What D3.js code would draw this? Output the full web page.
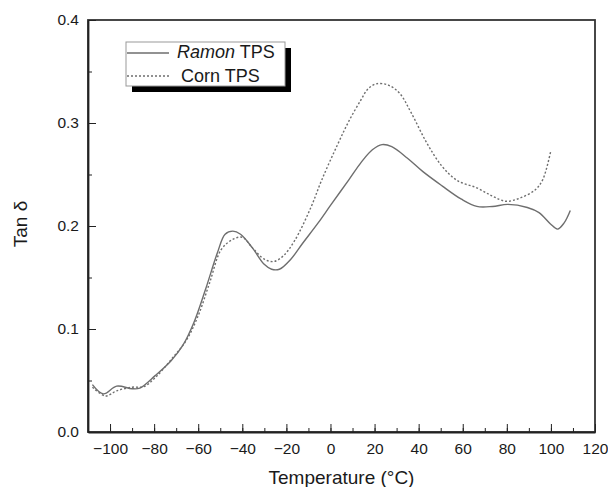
<!DOCTYPE html>
<html lang="en">
<head>
<meta charset="utf-8">
<title>Tan delta vs temperature</title>
<script src="https://d3js.org/d3.v7.min.js"></script>
<style>
  body { margin: 0; background: #fff; }
  svg text { font-family: "Liberation Sans", Arial, sans-serif; fill: #1a1a1a; }
  .axis path, .axis line { stroke: #222; }
</style>
</head>
<body>
<script>
// data (temperature in °C, tan delta)
const ramonT = [-108, -103, -97, -90, -86.5, -79.4, -72.4, -67, -62, -56.6, -51.3, -47.8, -44.3, -40.8, -35.5, -30.2, -26.7, -23.2, -17.9, -12.7, -5.6, 0, 8.4, 14, 19, 23.4, 27.8, 34.8, 41.8, 50.6, 59.4, 66.4, 73.5, 80.5, 89.3, 94.6, 99.8, 103, 106, 108.8];
const ramonTan = [0.046, 0.037, 0.0445, 0.042, 0.0426, 0.055, 0.069, 0.084, 0.106, 0.139, 0.174, 0.192, 0.195, 0.192, 0.179, 0.163, 0.158, 0.158, 0.168, 0.183, 0.203, 0.220, 0.245, 0.262, 0.274, 0.279, 0.277, 0.266, 0.253, 0.239, 0.226, 0.219, 0.219, 0.221, 0.218, 0.213, 0.202, 0.197, 0.203, 0.215];

const cornT = [-108, -102, -97, -90, -84.7, -79.4, -72.4, -65.4, -60, -54.8, -49.6, -44.3, -39.9, -35.5, -30.2, -25.8, -21.4, -16.2, -9.1, -3.9, 3.2, 8.4, 13.7, 17, 20.7, 26, 31.3, 36.6, 43.6, 50.6, 57.6, 66.4, 73.5, 79.6, 85.8, 92.8, 96.3, 100];
const cornTan = [0.0435, 0.035, 0.040, 0.0435, 0.044, 0.053, 0.070, 0.089, 0.113, 0.145, 0.177, 0.187, 0.189, 0.179, 0.168, 0.1655, 0.171, 0.186, 0.217, 0.245, 0.279, 0.302, 0.322, 0.333, 0.338, 0.337, 0.329, 0.310, 0.281, 0.258, 0.244, 0.237, 0.229, 0.224, 0.227, 0.235, 0.245, 0.2735];

const xTicks = [-100, -80, -60, -40, -20, 0, 20, 40, 60, 80, 100, 120];
const yTicks = [0, 0.1, 0.2, 0.3, 0.4];

const w = 608, h = 487;
const mLeft = 88, mRight = 595, mTop = 20, mBottom = 432;

const svg = d3.select("body").append("svg")
  .attr("width", w)
  .attr("height", h);

const x = d3.scaleLinear().domain([-110, 120]).range([mLeft, mRight]);
const y = d3.scaleLinear().domain([0, 0.4]).range([mBottom, mTop]);

// frame (top + right sides carry no ticks)
svg.append("rect")
  .attr("x", mLeft).attr("y", mTop)
  .attr("width", mRight - mLeft).attr("height", mBottom - mTop)
  .attr("fill", "none").attr("stroke", "#333").attr("stroke-width", 1.8);

// minor ticks
svg.append("g")
  .attr("class", "axis")
  .attr("transform", "translate(0," + mBottom + ")")
  .call(d3.axisBottom(x).tickValues(d3.range(-110, 121, 10)).tickSize(-4).tickFormat(""))
  .call(g => g.select(".domain").remove());
svg.append("g")
  .attr("class", "axis")
  .attr("transform", "translate(" + mLeft + ",0)")
  .call(d3.axisLeft(y).tickValues(d3.range(0, 0.401, 0.05)).tickSize(-4).tickFormat(""))
  .call(g => g.select(".domain").remove());

// major ticks + labels
svg.append("g")
  .attr("class", "axis")
  .attr("transform", "translate(0," + mBottom + ")")
  .call(d3.axisBottom(x).tickValues(xTicks).tickSizeInner(-8).tickSizeOuter(0).tickPadding(11))
  .call(g => g.selectAll("text").style("font-size", "15.5px"))
  .call(g => g.select(".domain").attr("stroke-width", 1.8));

svg.append("g")
  .attr("class", "axis")
  .attr("transform", "translate(" + mLeft + ",0)")
  .call(d3.axisLeft(y).tickValues(yTicks).tickFormat(d3.format(".1f")).tickSizeInner(-8).tickSizeOuter(0).tickPadding(9))
  .call(g => g.selectAll("text").style("font-size", "15.5px"))
  .call(g => g.select(".domain").attr("stroke-width", 1.8));

// curves
const line = d3.line()
  .x(d => x(d[0]))
  .y(d => y(d[1]))
  .curve(d3.curveCatmullRom.alpha(0.5));

svg.append("path")
  .attr("d", line(d3.zip(ramonT, ramonTan)))
  .attr("fill", "none")
  .attr("stroke", "#6e6e6e")
  .attr("stroke-width", 1.4);

svg.append("path")
  .attr("d", line(d3.zip(cornT, cornTan)))
  .attr("fill", "none")
  .attr("stroke", "#6e6e6e")
  .attr("stroke-width", 1.4)
  .attr("stroke-dasharray", "2,2");

// legend with drop shadow
const lg = svg.append("g");
lg.append("rect")
  .attr("x", 132).attr("y", 48).attr("width", 159).attr("height", 44)
  .attr("fill", "#000");
lg.append("rect")
  .attr("x", 126).attr("y", 42).attr("width", 159).attr("height", 44)
  .attr("fill", "#fff").attr("stroke", "#999").attr("stroke-width", 1);

lg.append("line")
  .attr("x1", 127).attr("x2", 169).attr("y1", 53).attr("y2", 53)
  .attr("stroke", "#6e6e6e").attr("stroke-width", 1.4);
lg.append("line")
  .attr("x1", 127).attr("x2", 169).attr("y1", 76).attr("y2", 76)
  .attr("stroke", "#6e6e6e").attr("stroke-width", 1.4).attr("stroke-dasharray", "2,2");

const t1 = lg.append("text").attr("x", 177).attr("y", 58).style("font-size", "18px");
t1.append("tspan").style("font-style", "italic").text("Ramon");
t1.append("tspan").text(" TPS");
lg.append("text").attr("x", 181).attr("y", 82).style("font-size", "18px").text("Corn TPS");

// axis titles
svg.append("text")
  .attr("x", (mLeft + mRight) / 2).attr("y", 484)
  .attr("text-anchor", "middle")
  .style("font-size", "19px")
  .text("Temperature (°C)");

svg.append("text")
  .attr("transform", "translate(27,224) rotate(-90)")
  .attr("text-anchor", "middle")
  .style("font-size", "19px")
  .text("Tan δ");
</script>
</body>
</html>
